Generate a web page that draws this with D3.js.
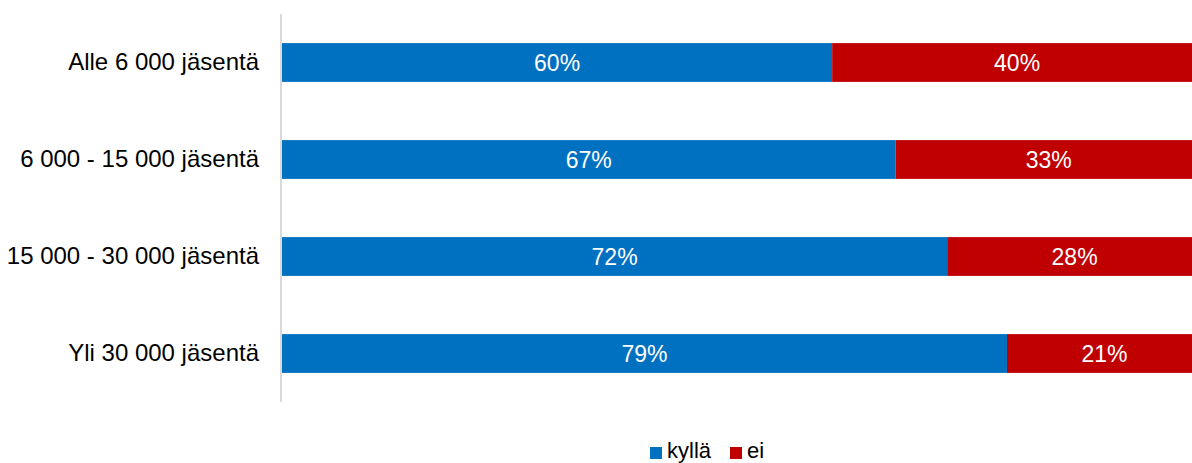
<!DOCTYPE html>
<html>
<head>
<meta charset="utf-8">
<script src="https://cdn.jsdelivr.net/npm/d3@7"></script>
<style>
  body { margin: 0; background: #fff; }
  svg { display: block; font-family: "Liberation Sans", Arial, sans-serif; }
</style>
</head>
<body>
<svg id="chart" width="1192" height="463"></svg>
<script>
// categories (top to bottom)
const groups = ['Alle 6 000 jäsentä', '6 000 - 15 000 jäsentä', '15 000 - 30 000 jäsentä', 'Yli 30 000 jäsentä'];
// share answering "kyllä" / "ei" (percent)
const kylla = [59.8, 66.7, 72.3, 78.8];
const ei = [40.2, 33.3, 27.7, 21.2];
const seriesNames = ['kyllä', 'ei'];
const colors = ['#0070C0', '#C00000'];

const svg = d3.select('#chart');
const margin = { top: 14, left: 282 };
const plotW = 920;   // the 100% end runs a little past the right edge
const plotH = 388;
const fontSize = 23;

const rows = groups.map((g, i) => ({ group: g, 'kyllä': kylla[i], 'ei': ei[i] }));
const stack = d3.stack().keys(seriesNames)(rows);

const x = d3.scaleLinear()
  .domain([0, 100])
  .range([margin.left, margin.left + plotW]);

const y = d3.scaleBand()
  .domain(groups)
  .range([margin.top, margin.top + plotH])
  .paddingInner(0.6)
  .paddingOuter(0.3);

const color = d3.scaleOrdinal().domain(seriesNames).range(colors);

// bars
const layers = svg.append('g').attr('class', 'bars')
  .selectAll('g')
  .data(stack)
  .join('g')
  .attr('fill', d => color(d.key));

layers.selectAll('rect')
  .data(d => d)
  .join('rect')
  .attr('x', d => x(d[0]))
  .attr('y', d => y(d.data.group))
  .attr('width', d => x(d[1]) - x(d[0]))
  .attr('height', y.bandwidth());

// value labels
layers.selectAll('text')
  .data(d => d)
  .join('text')
  .attr('x', d => (x(d[0]) + x(d[1])) / 2)
  .attr('y', d => y(d.data.group) + y.bandwidth() / 2)
  .attr('dy', '0.35em')
  .attr('text-anchor', 'middle')
  .attr('fill', '#fff')
  .attr('font-size', fontSize)
  .text(d => Math.round(d[1] - d[0]) + '%');

// category axis
const yAxis = svg.append('g')
  .attr('transform', `translate(${margin.left - 1},0)`)
  .call(d3.axisLeft(y).tickSize(0).tickPadding(22));

yAxis.select('.domain')
  .attr('stroke', '#d9d9d9')
  .attr('stroke-width', 2)
  .attr('d', `M0,${margin.top}V${margin.top + plotH}`);

yAxis.selectAll('.tick text')
  .attr('font-size', 24)
  .attr('font-family', '"Liberation Sans", Arial, sans-serif')
  .attr('fill', '#000');

// legend
const legend = svg.append('g').attr('transform', 'translate(650,447)');
const legendX = [0, 80];
seriesNames.forEach((name, i) => {
  const item = legend.append('g').attr('transform', `translate(${legendX[i]},0)`);
  item.append('rect')
    .attr('width', 12)
    .attr('height', 12)
    .attr('fill', color(name));
  item.append('text')
    .attr('x', 17)
    .attr('y', 11)
    .attr('font-size', 22)
    .attr('fill', '#000')
    .text(name);
});
</script>
</body>
</html>
